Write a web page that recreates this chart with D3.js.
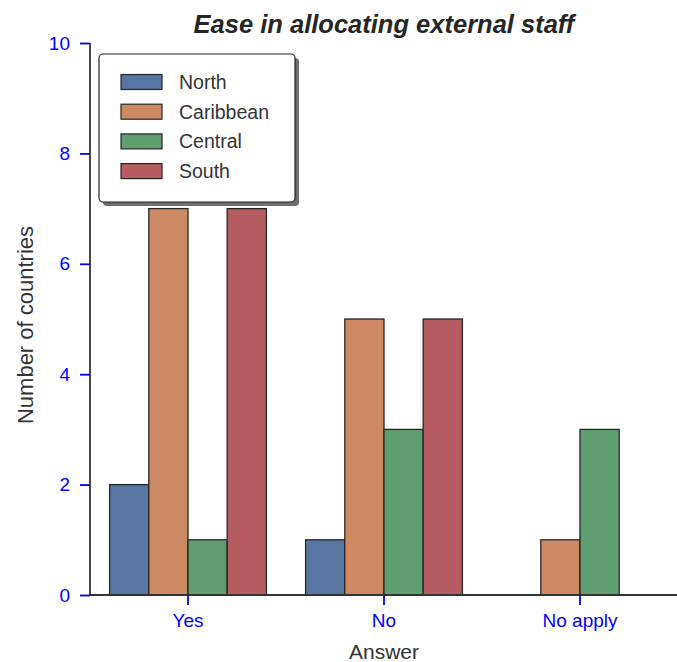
<!DOCTYPE html>
<html><head><meta charset="utf-8">
<script src="https://cdn.jsdelivr.net/npm/d3@7"></script>
<style>body{margin:0;background:#fff;}svg{display:block;font-family:Arial,"Liberation Sans",sans-serif;}</style>
</head><body>
<svg id="c" width="677" height="662"></svg>
<script>
const categories = ["Yes", "No", "No apply"];
const seriesNames = ["North", "Caribbean", "Central", "South"];
const north = [2, 1, 0];
const caribbean = [7, 5, 1];
const central = [1, 3, 3];
const south = [7, 5, 0];
const seriesColors = ["#5975a4", "#cc8963", "#5f9e6e", "#b55d60"];
const yTicks = [0, 2, 4, 6, 8, 10];

const values = [north, caribbean, central, south];
const FONT = "Arial,'Liberation Sans',sans-serif";
const svg = d3.select("#c");
const m = {l: 90, r: 678, t: 43, b: 595};
const x = d3.scaleBand().domain(categories).range([m.l, m.r]).paddingInner(0).paddingOuter(0);
const bw = x.bandwidth();
const xs = d3.scaleBand().domain(seriesNames).range([0.1 * bw, 0.9 * bw]).padding(0);
const y = d3.scaleLinear().domain([0, 10]).range([m.b, m.t]);

// bars
seriesNames.forEach((s, si) => {
  svg.append("g").selectAll("rect").data(categories.map((c, ci) => ({c, v: values[si][ci]})))
    .join("rect")
    .attr("x", d => x(d.c) + xs(s))
    .attr("y", d => y(d.v))
    .attr("width", xs.bandwidth())
    .attr("height", d => y(0) - y(d.v))
    .attr("fill", seriesColors[si])
    .attr("stroke", d => d.v > 0 ? "#262626" : "none")
    .attr("stroke-width", 1.3);
});

// axes
const ya = svg.append("g").attr("transform", `translate(${m.l},0)`)
  .call(d3.axisLeft(y).tickValues(yTicks).tickSize(10).tickPadding(10));
ya.select(".domain").attr("stroke", "#333").attr("stroke-width", 1.8).attr("d", `M0,${m.t}V${m.b}`);
ya.selectAll(".tick line").attr("stroke", "blue").attr("stroke-width", 1.8);
ya.selectAll(".tick text").attr("fill", "blue").attr("font-size", 19).attr("font-family", FONT);

const xa = svg.append("g").attr("transform", `translate(0,${m.b})`)
  .call(d3.axisBottom(x).tickSize(10).tickPadding(9));
xa.select(".domain").attr("stroke", "#333").attr("stroke-width", 1.8).attr("d", `M${m.l},0H${m.r}`);
xa.selectAll(".tick line").attr("stroke", "blue").attr("stroke-width", 1.8);
xa.selectAll(".tick text").attr("fill", "blue").attr("font-size", 19).attr("font-family", FONT);

// titles
svg.append("text").attr("x", (m.l + m.r) / 2).attr("y", 33).attr("text-anchor", "middle")
  .attr("font-size", 25.5).attr("font-weight", "bold").attr("font-style", "italic").attr("fill", "#262626")
  .text("Ease in allocating external staff");
svg.append("text").attr("x", (m.l + m.r) / 2).attr("y", 659).attr("text-anchor", "middle")
  .attr("font-size", 21).attr("fill", "#333").text("Answer");
svg.append("text").attr("transform", `translate(33,325) rotate(-90)`).attr("text-anchor", "middle")
  .attr("font-size", 22).attr("fill", "#333").text("Number of countries");

// legend
const lg = svg.append("g");
lg.append("rect").attr("x", 103).attr("y", 58).attr("width", 196).attr("height", 148).attr("rx", 4)
  .attr("fill", "#555").attr("opacity", 0.85);
lg.append("rect").attr("x", 99).attr("y", 54).attr("width", 196).attr("height", 148).attr("rx", 4)
  .attr("fill", "#fff").attr("stroke", "#222").attr("stroke-width", 1.2);
seriesNames.forEach((s, i) => {
  const cy = 82 + i * 29.7;
  lg.append("rect").attr("x", 121).attr("y", cy - 7.5).attr("width", 41).attr("height", 15)
    .attr("fill", seriesColors[i]).attr("stroke", "#262626").attr("stroke-width", 1.2);
  lg.append("text").attr("x", 179).attr("y", cy + 7).attr("font-size", 19.5).attr("fill", "#333").text(s);
});
</script>
</body></html>
